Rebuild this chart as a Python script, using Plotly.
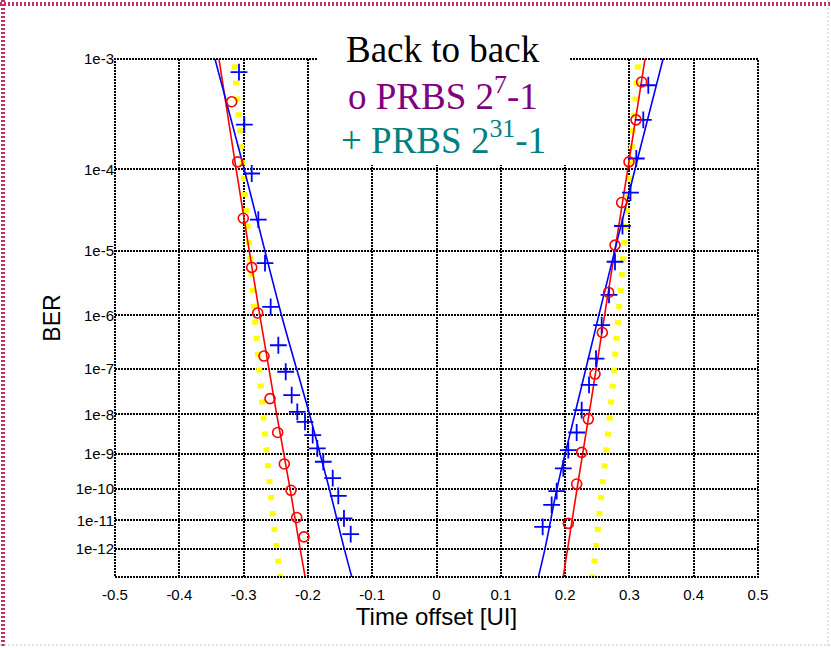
import math
import plotly.graph_objects as go

# ---------------------------------------------------------------------------
# Data: bit error rate versus sampling time offset (unit intervals)
# ---------------------------------------------------------------------------
x_ticks = [-0.5, -0.4, -0.3, -0.2, -0.1, 0.0, 0.1, 0.2, 0.3, 0.4, 0.5]
x_tick_labels = ["-0.5", "-0.4", "-0.3", "-0.2", "-0.1", "0",
                 "0.1", "0.2", "0.3", "0.4", "0.5"]

ber_ticks = [1e-3, 1e-4, 1e-5, 1e-6, 1e-7, 1e-8, 1e-9, 1e-10, 1e-11, 1e-12]
ber_tick_labels = ["1e-3", "1e-4", "1e-5", "1e-6", "1e-7", "1e-8",
                   "1e-9", "1e-10", "1e-11", "1e-12"]
ber_top = 1e-3
ber_bottom = 8.2e-14

# PRBS 2^7-1 measurements (circles)
prbs7_left_x = [-0.3185, -0.3092, -0.3005, -0.2874, -0.2781, -0.2683,
                -0.2589, -0.2470, -0.2367, -0.2263, -0.2174, -0.2061]
prbs7_left_ber = [4.5e-4, 1.2e-4, 2.7e-5, 5.8e-6, 1.1e-6, 1.8e-7,
                  2.3e-8, 3.6e-9, 5.3e-10, 9.1e-11, 1.25e-11, 2.7e-12]
prbs7_right_x = [0.3191, 0.3103, 0.2994, 0.2880, 0.2776, 0.2677,
                 0.2579, 0.2465, 0.2361, 0.2258, 0.2180, 0.2050]
prbs7_right_ber = [6.6e-4, 3.1e-4, 1.2e-4, 4.2e-5, 1.2e-5, 2.4e-6,
                   5.0e-7, 7.8e-8, 7.7e-9, 1.1e-9, 1.4e-10, 7.9e-12]

# PRBS 2^31-1 measurements (pluses)
prbs31_left_x = [-0.3072, -0.2989, -0.2874, -0.2771, -0.2667, -0.2579,
                 -0.2460, -0.2345, -0.2252, -0.2165, -0.2045, -0.1925,
                 -0.1854, -0.1761, -0.1614, -0.1527, -0.1439, -0.1334]
prbs31_left_ber = [7.9e-4, 2.8e-4, 9.0e-5, 2.6e-5, 6.7e-6, 1.4e-6,
                   2.9e-7, 8.7e-8, 2.75e-8, 1.14e-8, 6.6e-9, 3.1e-9,
                   1.4e-9, 6.1e-10, 2.1e-10, 6.1e-11, 1.17e-11, 3.4e-12]
prbs31_right_x = [0.3294, 0.3216, 0.3107, 0.3017, 0.2892, 0.2776,
                  0.2683, 0.2569, 0.2481, 0.2372, 0.2258, 0.2180,
                  0.2050, 0.1972, 0.1869, 0.1791, 0.1651]
prbs31_right_ber = [6.2e-4, 3.1e-4, 1.3e-4, 5.5e-5, 2.15e-5, 7.0e-6,
                    2.2e-6, 6.8e-7, 1.6e-7, 4.6e-8, 1.26e-8, 3.6e-9,
                    1.26e-9, 4.0e-10, 8.6e-11, 3.2e-11, 6.0e-12]

# Fitted bathtub edges, sampled at fixed BER levels
fit_ber = [2e-3, 1e-3, 1e-4, 1e-6, 1e-8, 1e-10, 1e-12, 1e-14]
fit7_left_x = [-0.3481, -0.3383, -0.3115, -0.2748, -0.2485, -0.2277, -0.2121, -0.1983]
fit7_right_x = [0.3345, 0.3243, 0.2974, 0.2614, 0.2372, 0.2185, 0.2039, 0.1917]
fit31_left_x = [-0.3617, -0.3445, -0.2991, -0.2409, -0.1975, -0.1666, -0.1434, -0.1224]
fit31_right_x = [0.3689, 0.3523, 0.3087, 0.2524, 0.2151, 0.1873, 0.1687, 0.1501]
theory_left_x = [-0.3202, -0.3149, -0.3008, -0.2827, -0.2694, -0.2586, -0.2484, -0.2389]
theory_right_x = [0.3185, 0.3140, 0.3012, 0.2830, 0.2698, 0.2574, 0.2477, 0.2387]


# ---------------------------------------------------------------------------
# BER axis: plotted as log10 of the Gaussian Q factor
# ---------------------------------------------------------------------------
def q_factor(ber):
    lo, hi = 0.0, 30.0
    target = math.log(ber)
    for _ in range(200):
        mid = 0.5 * (lo + hi)
        if math.log(0.5 * math.erfc(mid / math.sqrt(2.0))) > target:
            lo = mid
        else:
            hi = mid
    return 0.5 * (lo + hi)


def ber_axis(values):
    return [math.log10(q_factor(v)) for v in values]


RED = "#ff0000"
BLUE = "#0000ff"
YELLOW = "#ffff00"

fig = go.Figure()

# theoretical edges: thick yellow dotted curves
for xs in (theory_left_x, theory_right_x):
    fig.add_trace(go.Scatter(
        x=xs, y=ber_axis(fit_ber), mode="lines", line_shape="spline",
        line=dict(color=YELLOW, width=6, dash="5px,11px"),
        showlegend=False, hoverinfo="skip"))

# fitted edges
for xs, col in ((fit7_left_x, RED), (fit7_right_x, RED),
                (fit31_left_x, BLUE), (fit31_right_x, BLUE)):
    fig.add_trace(go.Scatter(
        x=xs, y=ber_axis(fit_ber), mode="lines", line_shape="spline",
        line=dict(color=col, width=1.6),
        showlegend=False, hoverinfo="skip"))

# measured points
for xs, bs in ((prbs31_left_x, prbs31_left_ber), (prbs31_right_x, prbs31_right_ber)):
    fig.add_trace(go.Scatter(
        x=xs, y=ber_axis(bs), mode="markers",
        marker=dict(symbol="cross-thin-open", size=12, color=BLUE,
                    line=dict(color=BLUE, width=1.8)),
        showlegend=False))
for xs, bs in ((prbs7_left_x, prbs7_left_ber), (prbs7_right_x, prbs7_right_ber)):
    fig.add_trace(go.Scatter(
        x=xs, y=ber_axis(bs), mode="markers",
        marker=dict(symbol="circle-open", size=10, color=RED,
                    line=dict(color=RED, width=1.6)),
        showlegend=False))

# ---------------------------------------------------------------------------
# Layout
# ---------------------------------------------------------------------------
W, H = 831, 648
ML, MR, MT, MB = 115, 73, 59, 71
PW, PH = W - ML - MR, H - MT - MB


def px_x(p):
    return (p - ML) / PW


def px_y(p):
    return (H - MB - p) / PH


sans = "Liberation Sans, Arial, sans-serif"
tick_font = dict(family=sans, size=15, color="black")
grid_dash = "2px,1px"

fig.update_layout(
    width=W, height=H,
    margin=dict(l=ML, r=MR, t=MT, b=MB, pad=0),
    paper_bgcolor="white", plot_bgcolor="white",
    showlegend=False,
    xaxis=dict(
        range=[-0.5, 0.5], tickvals=x_ticks, ticktext=x_tick_labels,
        showgrid=True, gridcolor="black", gridwidth=2, griddash=grid_dash,
        zeroline=False, showline=False,
        ticks="outside", ticklen=4, tickcolor="white", tickfont=tick_font,
        title=dict(text="Time offset [UI]", standoff=6,
                   font=dict(family=sans, size=24, color="black")),
    ),
    yaxis=dict(
        range=[ber_axis([ber_bottom])[0], ber_axis([ber_top])[0] - 1e-6],
        tickvals=ber_axis(ber_ticks), ticktext=ber_tick_labels,
        showgrid=True, gridcolor="black", gridwidth=2, griddash=grid_dash,
        zeroline=False, showline=False,
        ticks="", tickfont=tick_font,
        title=dict(text="BER", standoff=8,
                   font=dict(family=sans, size=23, color="black")),
    ),
)

shapes = []
# plot frame
shapes.append(dict(type="rect", xref="paper", yref="paper", x0=0, x1=1, y0=0, y1=1,
                   line=dict(color="black", width=2, dash=grid_dash),
                   fillcolor="rgba(0,0,0,0)", layer="above"))
# white panel behind the heading
shapes.append(dict(type="rect", xref="paper", yref="paper",
                   x0=px_x(317), x1=px_x(569), y0=px_y(165), y1=px_y(30),
                   line=dict(width=0), fillcolor="white", layer="above"))
# page border
shapes.append(dict(type="line", xref="paper", yref="paper",
                   x0=px_x(3), x1=px_x(3), y0=px_y(0), y1=px_y(H),
                   line=dict(color="#c0306a", width=4, dash="2px,2px")))
shapes.append(dict(type="line", xref="paper", yref="paper",
                   x0=px_x(0), x1=px_x(W), y0=px_y(4), y1=px_y(4),
                   line=dict(color="#c0306a", width=4, dash="2px,2px")))
shapes.append(dict(type="line", xref="paper", yref="paper",
                   x0=px_x(0), x1=px_x(W), y0=px_y(645), y1=px_y(645),
                   line=dict(color="#c8c8c8", width=1, dash="2px,2px")))
shapes.append(dict(type="line", xref="paper", yref="paper",
                   x0=px_x(828), x1=px_x(828), y0=px_y(0), y1=px_y(H),
                   line=dict(color="#c8c8c8", width=1, dash="2px,2px")))
fig.update_layout(shapes=shapes)

serif = "Liberation Serif, Times New Roman, serif"
heading = [
    ("Back to back", "black", 50),
    ("o PRBS 2<sup>7</sup>-1", "#800080", 94),
    ("+ PRBS 2<sup>31</sup>-1", "#008080", 137),
]
for text, col, yc in heading:
    fig.add_annotation(xref="paper", yref="paper", x=px_x(443), y=px_y(yc),
                       text=text, showarrow=False, xanchor="center", yanchor="middle",
                       font=dict(family=serif, size=37, color=col))

fig.write_html("out.html")
